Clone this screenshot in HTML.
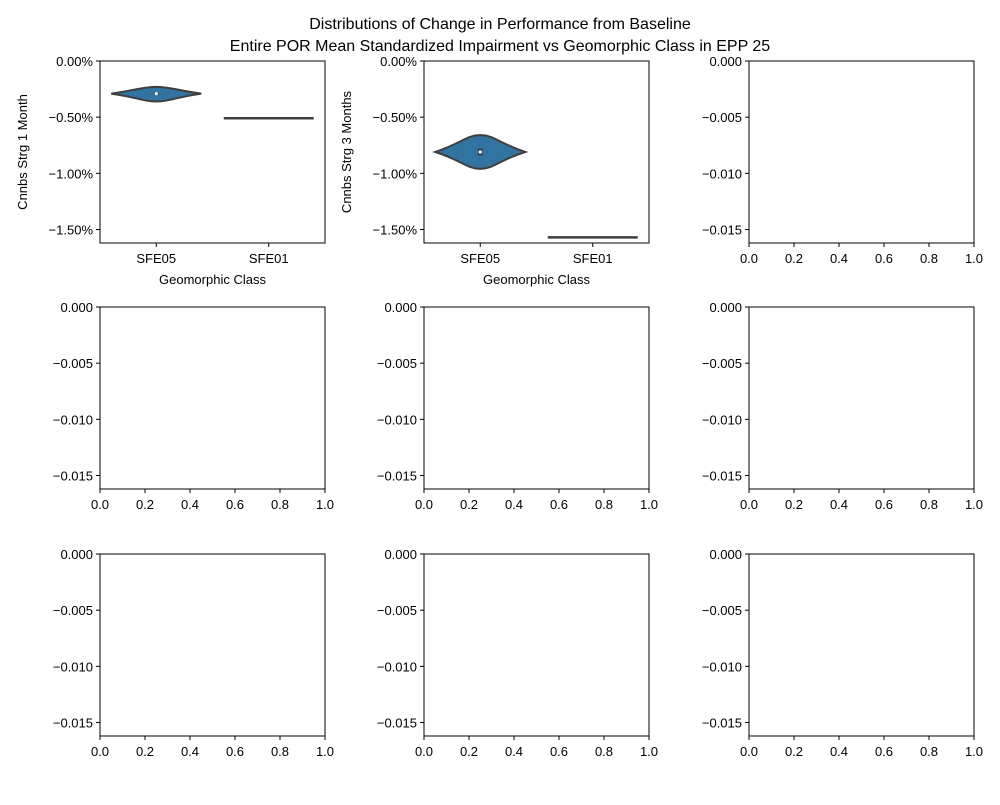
<!DOCTYPE html>
<html><head><meta charset="utf-8"><style>
body{margin:0;background:#fff;}
svg{font-family:"Liberation Sans","DejaVu Sans",sans-serif;}
</style></head><body>
<svg id="chart" width="1000" height="800" viewBox="0 0 1000 800"></svg>
<script>
const categories=["SFE05","SFE01"];
const panelTitles=["Cnnbs Strg 1 Month","Cnnbs Strg 3 Months"];
// values in percent: [panel][category]
const centers=[[-0.29,-0.51],[-0.81,-1.57]];
const mins=[[-0.36,-0.51],[-0.96,-1.57]];
const maxs=[[-0.23,-0.51],[-0.66,-1.57]];
const q1s=[[-0.30,-0.51],[-0.84,-1.57]];
const q3s=[[-0.28,-0.51],[-0.78,-1.57]];
const pctTicks=[0,-0.5,-1.0,-1.5];
const pctLabels=["0.00%","\u22120.50%","\u22121.00%","\u22121.50%"];
const plainTicks=[0,-0.005,-0.010,-0.015];
const plainLabels=["0.000","\u22120.005","\u22120.010","\u22120.015"];
const xTicks=[0,0.2,0.4,0.6,0.8,1.0];
const xLabels=["0.0","0.2","0.4","0.6","0.8","1.0"];

const NS="http://www.w3.org/2000/svg";
const svg=document.getElementById('chart');
function mk(tag,attrs,parent,text){const e=document.createElementNS(NS,tag);for(const k in attrs)e.setAttribute(k,attrs[k]);if(text!==undefined)e.textContent=text;(parent||svg).appendChild(e);return e;}

const colX=[100,424,749], rowY=[61,307,554], W=225, H=182;
const yMin=-1.62, yMax=0; // percent
let t=mk('text',{x:500,y:29,'text-anchor':'middle','font-size':16,fill:'#000'},svg,'Distributions of Change in Performance from Baseline');

t=mk('text',{x:500,y:51,'text-anchor':'middle','font-size':16,fill:'#000'},svg,'Entire POR Mean Standardized Impairment vs Geomorphic Class in EPP 25');


for(let r=0;r<3;r++)for(let c=0;c<3;c++){
  const idx=r*3+c, x0=colX[c], y0=rowY[r];
  const g=mk('g',{});
  
  
  const yS=v=>y0+(yMax-v)/(yMax-yMin)*H;
  const isData=idx<2;
  // y ticks
  const tv=isData?pctTicks:plainTicks, tl=isData?pctLabels:plainLabels;
  tv.forEach((v,i)=>{const yy=yS(isData?v:v*100);
    mk('line',{x1:x0-4,x2:x0,y1:yy,y2:yy,stroke:'#000','stroke-width':1},g);
    const l=mk('text',{x:x0-7,y:yy+5,'text-anchor':'end','font-size':13,fill:'#000'},g,tl[i]);
    
  });
  if(isData){
    const xS=i=>x0+W*(i+0.5)/categories.length;
    categories.forEach((cat,i)=>{const xx=xS(i);
      mk('line',{x1:xx,x2:xx,y1:y0+H,y2:y0+H+4,stroke:'#000'},g);
      const l=mk('text',{x:xx,y:y0+H+20,'text-anchor':'middle','font-size':13},g,cat);
      
      const half=W/categories.length*0.4;
      const ymn=yS(mins[idx][i]),ymx=yS(maxs[idx][i]),yc=yS(centers[idx][i]);
      if(Math.abs(ymn-ymx)<1){
        const ln=mk('line',{x1:xx-half,x2:xx+half,y1:yc,y2:yc,stroke:'#3f3f3f','stroke-width':2.5},g);
        
      } else {
        const ym=yc;
        const d=`M${xx},${ymx} C${xx+half*0.3},${ymx} ${xx+half*0.4},${ym-(ym-ymx)*0.55} ${xx+half},${ym} C${xx+half*0.4},${ym+(ymn-ym)*0.5} ${xx+half*0.3},${ymn} ${xx},${ymn} C${xx-half*0.3},${ymn} ${xx-half*0.4},${ym+(ymn-ym)*0.5} ${xx-half},${ym} C${xx-half*0.4},${ym-(ym-ymx)*0.55} ${xx-half*0.3},${ymx} ${xx},${ymx} Z`;
        const p=mk('path',{d:d,fill:'#3274a1',stroke:'#3f3f3f','stroke-width':2},g);
        
        const b=mk('rect',{x:xx-2.5,y:yS(q3s[idx][i]),width:5,height:yS(q1s[idx][i])-yS(q3s[idx][i]),fill:'#3f3f3f'},g);
        
        const m=mk('circle',{cx:xx,cy:yc,r:1.6,fill:'#fff'},g);
        
      }
    });
    let xl=mk('text',{x:x0+W/2,y:y0+H+41,'text-anchor':'middle','font-size':13},g,'Geomorphic Class');
    
    let yl=mk('text',{x:0,y:0,'text-anchor':'middle','font-size':13,transform:`translate(${x0-73},${y0+H/2}) rotate(-90)`},g,panelTitles[idx]);
    
  } else {
    xTicks.forEach((v,i)=>{const xx=x0+v*W;
      mk('line',{x1:xx,x2:xx,y1:y0+H,y2:y0+H+4,stroke:'#000'},g);
      const l=mk('text',{x:xx,y:y0+H+20,'text-anchor':'middle','font-size':13},g,xLabels[i]);
      
    });
  }
  const fr=mk('rect',{x:x0,y:y0,width:W,height:H,fill:'none',stroke:'#000','stroke-width':1},g);
  
}
</script>
</body></html>
